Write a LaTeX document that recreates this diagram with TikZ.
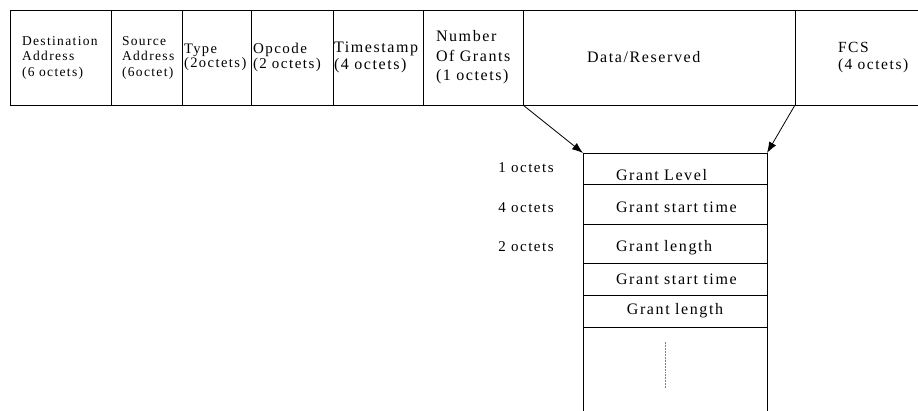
\documentclass[tikz,border=0pt]{standalone}
\usepackage{fontspec}
\setmainfont{Liberation Serif}[LetterSpace=10]
\usepackage{tikz}
\usetikzlibrary{positioning,arrows.meta}

\newcommand{\fsz}[2]{\fontsize{#1}{#2}\selectfont}

\begin{document}
\begin{tikzpicture}[x=1pt,y=-1pt,line width=0.8pt,
    field/.style={draw,outer sep=0pt,minimum height=95pt,align=left,anchor=north west},
    grantrow/.style={draw,outer sep=0pt,minimum width=184pt,inner xsep=33pt,inner ysep=0pt,
                 text width=118pt,align=left,text depth=0pt,font=\fsz{16}{18}},
    lbl/.style={inner sep=0pt,anchor=base west,font=\fsz{15}{17}}]

  \useasboundingbox (0,0) rectangle (918,411);

  % frame fields
  \node[field,minimum width=101pt,inner xsep=12pt,text width=77pt,font=\fsz{13.5}{15.5}]
    (dst) at (10,10) {Destination\\Address\\(6~octets)};
  \node[field,minimum width=71pt,inner xsep=11pt,text width=49pt,font=\fsz{13.5}{15.5},
    right=0pt of dst] (src) {Source\\Address\\(6octet)};
  \node[field,minimum width=69pt,inner xsep=2pt,text width=65pt,font=\fsz{14.5}{13.5},
    right=0pt of src] (typ) {Type\\(2octets)};
  \node[field,minimum width=82pt,inner xsep=2pt,text width=78pt,font=\fsz{15}{15.5},
    right=0pt of typ] (opc) {Opcode\\(2~octets)};
  \node[field,minimum width=90pt,inner xsep=1pt,text width=88pt,font=\fsz{16}{17},
    right=0pt of opc] (tms) {Timestamp\\(4~octets)};
  \node[field,minimum width=100pt,inner xsep=13pt,text width=74pt,font=\fsz{16}{19.5},
    right=0pt of tms] (num) {Number\\Of~Grants\\(1~octets)};
  \node[field,minimum width=272pt,inner xsep=64pt,text width=144pt,font=\fsz{16}{18},
    right=0pt of num] (data) {Data/Reserved};
  \node[field,minimum width=124pt,inner xsep=43pt,text width=38pt,font=\fsz{15.5}{17},
    right=0pt of data] (fcs) {FCS\\(4~octets)};

  % grant list
  \node[grantrow,minimum height=31pt,text height=25pt,anchor=north west] (g1) at (583,153) {Grant~Level};
  \node[grantrow,minimum height=40pt,text height=18pt,below=0pt of g1] (g2) {Grant~start~time};
  \node[grantrow,minimum height=39pt,text height=17pt,below=0pt of g2] (g3) {Grant~length};
  \node[grantrow,minimum height=32pt,text height=12pt,align=center,below=0pt of g3] (g4) {Grant~start~time};
  \node[grantrow,minimum height=32pt,text height=8pt,align=center,below=0pt of g4] (g5) {Grant~length};

  \coordinate (bot) at (0,411);
  \draw (g5.south west) -- (g5.south west |- bot);
  \draw (g5.south east) -- (g5.south east |- bot);
  \draw[line width=0.5pt,densely dotted,gray] (665,342) -- (665,388);

  \node[lbl] (o1) at (498,173) {1~octets};
  \node[lbl] (o2) at (498,213) {4~octets};
  \node[lbl] (o3) at (498,252) {2~octets};

  \draw[-{Latex[length=11pt,width=8pt]}] (data.south west) -- (g1.north west);
  \draw[-{Latex[length=11pt,width=8pt]}] (data.south east) -- (g1.north east);
\end{tikzpicture}
\end{document}
